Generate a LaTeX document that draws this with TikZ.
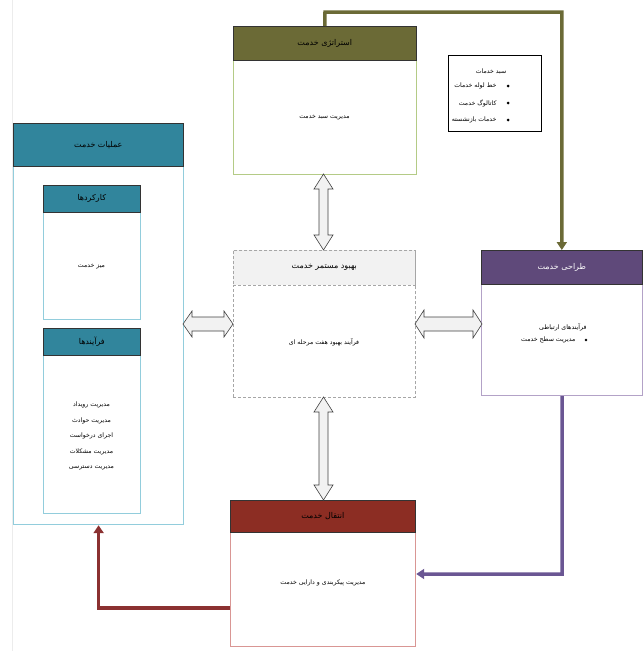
\documentclass[tikz,border=0pt]{standalone}
\usepackage{fontspec}
\usetikzlibrary{arrows.meta,calc}
\newfontfamily\arabicfont[Script=Arabic]{DejaVu Sans}
\TeXXeTstate=1
\newcommand\fa[1]{{\arabicfont\beginR #1\endR}}
\definecolor{olivehd}{HTML}{6B6A36}
\definecolor{olivebd}{HTML}{B4CB86}
\definecolor{tealhd}{HTML}{31859C}
\definecolor{tealbd}{HTML}{92CDDC}
\definecolor{grayhd}{HTML}{F2F2F2}
\definecolor{graybd}{HTML}{A6A6A6}
\definecolor{purphd}{HTML}{5F497A}
\definecolor{purpbd}{HTML}{B3A2C7}
\definecolor{purpln}{HTML}{6A5693}
\definecolor{redhd}{HTML}{8C2D23}
\definecolor{redbd}{HTML}{D99694}
\definecolor{redln}{HTML}{8B3131}
\tikzset{
  boxbody/.style={draw=#1, line width=1.2pt, fill=white, anchor=north west, inner sep=0pt},
  boxhead/.style={draw=black!80, line width=0.6pt, fill=#1, anchor=north west, inner sep=0pt},
  hdtext/.style={font=\fontsize{8}{10}\selectfont, text=black},
  bdtext/.style={font=\fontsize{6.2}{8}\selectfont, text=black},
  dblarr/.style={draw=black!75, line width=0.6pt, fill=grayhd},
  flow/.style={line width=3.5pt, -{Triangle[length=8pt,width=10pt]}},
}
\begin{document}
\begin{tikzpicture}[x=1pt,y=-1pt]
\useasboundingbox (0,0) rectangle (643,651);
\draw[gray!15, line width=0.6pt] (12,0) -- (12,651);

% Strategy
\node[boxbody=olivebd, minimum width=183pt, minimum height=114pt] (strat) at (233,60) {};
\node[boxhead=olivehd, minimum width=183pt, minimum height=34pt] (strath) at (233,26) {};
\node[hdtext] (strat-t) at (strath.center) {\fa{استراتژی خدمت}};
\node[bdtext] (strat-b) at (324.5,118) {\fa{مدیریت سبد خدمت}};

% Portfolio
\node[draw=black, line width=0.8pt, fill=white, anchor=north west, minimum width=93pt, minimum height=76pt, inner sep=0pt] (port) at (448,55) {};
\node[bdtext] (port-t) at (491,72) {\fa{سبد خدمات}};
\node[bdtext, anchor=east] (port-1) at (500,86) {\fa{خط لوله خدمات}};
\node[bdtext, anchor=east] (port-2) at (500,103) {\fa{کاتالوگ خدمت}};
\node[bdtext, anchor=east] (port-3) at (500,120) {\fa{خدمات بازنشسته}};
\fill (508,86) circle (1.5pt) (508,103) circle (1.5pt) (508,120) circle (1.5pt);

% Operations
\node[boxbody=tealbd, minimum width=170pt, minimum height=358pt] (ops) at (13,166) {};
\node[boxhead=tealhd, minimum width=170pt, minimum height=43pt] (opsh) at (13,123) {};
\node[hdtext] (ops-t) at (opsh.center) {\fa{عملیات خدمت}};
\node[boxbody=tealbd, minimum width=97pt, minimum height=107pt] (func) at (43,212) {};
\node[boxhead=tealhd, minimum width=97pt, minimum height=27pt] (funch) at (43,185) {};
\node[hdtext] (func-t) at (funch.center) {\fa{کارکردها}};
\node[bdtext] (func-b) at (91.5,267) {\fa{میز خدمت}};
\node[boxbody=tealbd, minimum width=97pt, minimum height=158pt] (proc) at (43,355) {};
\node[boxhead=tealhd, minimum width=97pt, minimum height=27pt] (proch) at (43,328) {};
\node[hdtext] (proc-t) at (proch.center) {\fa{فرآیندها}};
\node[bdtext, font=\fontsize{6.2}{15.5}\selectfont, align=center] (proc-b) at (91.5,436)
  {\fa{مدیریت رویداد}\\\fa{مدیریت حوادث}\\\fa{اجرای درخواست}\\\fa{مدیریت مشکلات}\\\fa{مدیریت دسترسی}};

% CSI
\node[draw=graybd, densely dashed, line width=0.6pt, fill=white, anchor=north west, inner sep=0pt, minimum width=182pt, minimum height=147pt] (csi) at (233,250) {};
\node[draw=graybd, densely dashed, line width=0.6pt, fill=grayhd, anchor=north west, inner sep=0pt, minimum width=182pt, minimum height=35pt] (csih) at (233,250) {};
\node[hdtext] (csi-t) at (csih.center) {\fa{بهبود مستمر خدمت}};
\node[bdtext] (csi-b) at (324,342) {\fa{فرآیند بهبود هفت مرحله ای}};

% Design
\node[boxbody=purpbd, minimum width=161pt, minimum height=111pt] (des) at (481,284) {};
\node[boxhead=purphd, minimum width=161pt, minimum height=34pt] (desh) at (481,250) {};
\node[hdtext, text=white] (des-t) at (desh.center) {\fa{طراحی خدمت}};
\node[bdtext, anchor=east] (des-1) at (590,327) {\fa{فرآیندهای ارتباطی}};
\node[bdtext, anchor=east] (des-2) at (579,340) {\fa{مدیریت سطح خدمت}};
\fill (586,340) circle (1.4pt);

% Transition
\node[boxbody=redbd, minimum width=185pt, minimum height=114pt] (tra) at (230,532) {};
\node[boxhead=redhd, minimum width=185pt, minimum height=32pt] (trah) at (230,500) {};
\node[hdtext] (tra-t) at (trah.center) {\fa{انتقال خدمت}};
\node[bdtext] (tra-b) at (323,583) {\fa{مدیریت پیکربندی و دارایی خدمت}};

% Double arrows
\draw[dblarr] (183,324) -- (192,311) -- (192,317) -- (224,317) -- (224,311) -- (233,324) -- (224,337) -- (224,331) -- (192,331) -- (192,337) -- cycle;
\draw[dblarr] (415,324) -- (424,310) -- (424,317) -- (473,317) -- (473,310) -- (482,324) -- (473,338) -- (473,331) -- (424,331) -- (424,338) -- cycle;
\draw[dblarr] (323.5,174) -- (333,189) -- (328,189) -- (328,235) -- (333,235) -- (323.5,250) -- (314,235) -- (319,235) -- (319,189) -- (314,189) -- cycle;
\draw[dblarr] (323.5,397) -- (333,412) -- (328,412) -- (328,485) -- (333,485) -- (323.5,500) -- (314,485) -- (319,485) -- (319,412) -- (314,412) -- cycle;

% Flow connectors
\coordinate (olB) at (325,12);
\draw[flow, olivehd] (strath.north) -- (olB) -| (desh.north);
\coordinate (puA) at (562,574);
\draw[flow, purpln] (des.south) -- (puA) -- (puA -| tra.east);
\coordinate (reA) at (230,608);
\draw[flow, redln] (reA) -| (ops.south);
\end{tikzpicture}
\end{document}
